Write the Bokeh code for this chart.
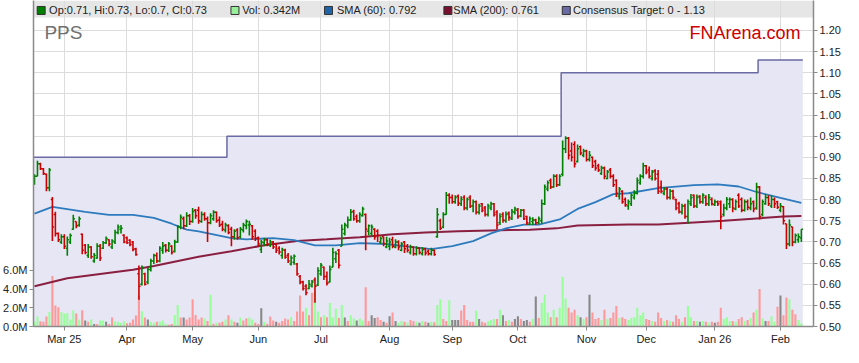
import pandas as pd
from bokeh.plotting import figure
from bokeh.models import Range1d, LinearAxis, FixedTicker, ColumnDataSource
from bokeh.embed import file_html
from bokeh.resources import INLINE
from bokeh.core.properties import value

# ---------------- data ----------------
symbol = "PPS"
site = "FNArena.com"
first_day = "2025-02-17"
n_days = 258

opens = [
 .845,.855,.885,.873,.860,.828,.800,.765,.720,.700,
 .712,.685,.700,.730,.748,.740,.718,.692,.668,.688,
 .655,.662,.690,.685,.698,.705,.688,.700,.722,.730,
 .716,.710,.704,.700,.684,.625,.600,.625,.605,.635,
 .655,.668,.655,.680,.692,.680,.690,.678,.700,.735,
 .755,.738,.762,.748,.775,.775,.748,.765,.755,.745,
 .755,.770,.752,.742,.728,.738,.730,.712,.728,.712,
 .728,.738,.740,.738,.725,.710,.682,.698,.705,.692,
 .700,.695,.685,.668,.680,.668,.648,.652,.648,.618,
 .605,.595,.590,.596,.610,.598,.625,.640,.618,.605,
 .640,.660,.680,.690,.720,.738,.752,.772,.760,.750,
 .762,.765,.725,.720,.730,.725,.700,.712,.688,.690,
 .705,.688,.700,.680,.700,.690,.675,.688,.672,.685,
 .672,.684,.678,.672,.680,.712,.750,.735,.765,.810,
 .805,.795,.808,.790,.805,.780,.805,.785,.795,.770,
 .790,.780,.765,.780,.790,.770,.745,.765,.750,.768,
 .755,.770,.775,.762,.775,.760,.742,.748,.752,.745,
 .750,.790,.825,.845,.830,.855,.835,.860,.920,.945,
 .915,.930,.890,.925,.905,.915,.895,.900,.890,.880,
 .862,.875,.850,.870,.855,.845,.808,.820,.800,.785,
 .790,.805,.815,.840,.855,.880,.870,.850,.868,.860,
 .830,.815,.825,.805,.820,.800,.790,.770,.785,.760,
 .790,.810,.785,.808,.795,.805,.790,.800,.788,.795,
 .795,.765,.780,.790,.800,.778,.810,.800,.775,.795,
 .780,.795,.780,.830,.765,.790,.805,.785,.800,.795,
 .775,.783,.743,.695,.736,.700,.705,.710]
highs = [
 .860,.892,.887,.875,.862,.875,.806,.771,.722,.718,
 .718,.713,.720,.764,.748,.760,.720,.695,.695,.690,
 .674,.697,.695,.702,.713,.706,.706,.729,.741,.740,
 .718,.713,.706,.702,.686,.644,.644,.627,.640,.660,
 .672,.675,.690,.700,.695,.700,.692,.705,.740,.765,
 .760,.770,.766,.780,.778,.783,.772,.770,.760,.768,
 .775,.772,.760,.750,.745,.742,.736,.730,.732,.735,
 .745,.753,.750,.740,.730,.713,.705,.710,.708,.705,
 .702,.697,.690,.686,.684,.674,.668,.670,.650,.622,
 .608,.600,.610,.610,.616,.640,.650,.642,.630,.644,
 .686,.678,.683,.741,.745,.760,.778,.776,.765,.770,
 .783,.767,.741,.741,.732,.730,.713,.713,.712,.710,
 .712,.706,.704,.700,.702,.695,.693,.690,.690,.688,
 .688,.686,.682,.686,.682,.780,.755,.770,.818,.815,
 .812,.810,.812,.808,.810,.805,.810,.800,.798,.790,
 .792,.785,.790,.795,.792,.775,.768,.770,.772,.772,
 .778,.783,.780,.778,.778,.762,.760,.758,.755,.760,
 .800,.836,.845,.850,.860,.860,.860,.940,.950,.948,
 .935,.938,.930,.928,.920,.918,.915,.902,.894,.885,
 .880,.878,.870,.875,.860,.848,.830,.822,.805,.800,
 .815,.822,.852,.860,.887,.882,.878,.870,.872,.870,
 .845,.830,.830,.825,.823,.802,.795,.790,.790,.800,
 .813,.812,.812,.810,.815,.810,.813,.805,.800,.798,
 .798,.790,.806,.805,.803,.800,.815,.805,.800,.800,
 .805,.798,.840,.832,.800,.813,.810,.810,.805,.797,
 .792,.785,.743,.753,.736,.720,.720,.730]
lows = [
 .835,.855,.870,.858,.820,.820,.702,.713,.700,.695,
 .683,.667,.695,.729,.732,.736,.671,.671,.662,.660,
 .651,.660,.655,.683,.695,.690,.683,.695,.718,.720,
 .697,.695,.690,.678,.667,.563,.597,.597,.600,.630,
 .648,.650,.652,.672,.675,.676,.670,.675,.698,.730,
 .730,.735,.740,.745,.755,.743,.745,.750,.700,.742,
 .750,.745,.735,.725,.722,.718,.690,.705,.705,.708,
 .722,.730,.715,.705,.702,.690,.674,.690,.690,.688,
 .683,.674,.670,.660,.660,.650,.644,.646,.620,.600,
 .585,.574,.588,.592,.556,.596,.620,.610,.597,.604,
 .640,.650,.637,.690,.715,.732,.750,.750,.745,.745,
 .760,.680,.715,.712,.705,.700,.695,.690,.685,.680,
 .685,.685,.680,.678,.674,.675,.670,.667,.668,.670,
 .668,.668,.668,.668,.667,.710,.728,.732,.764,.790,
 .790,.790,.785,.785,.775,.775,.780,.770,.765,.765,
 .770,.760,.760,.775,.760,.730,.740,.745,.745,.750,
 .752,.765,.755,.758,.752,.740,.740,.740,.740,.742,
 .743,.787,.820,.825,.828,.830,.832,.855,.910,.895,
 .890,.876,.888,.905,.900,.890,.890,.875,.868,.865,
 .858,.848,.848,.850,.830,.806,.800,.790,.783,.776,
 .785,.800,.812,.835,.850,.860,.850,.845,.845,.813,
 .815,.810,.800,.800,.800,.775,.767,.765,.755,.743,
 .785,.780,.780,.790,.790,.785,.785,.786,.785,.785,
 .730,.760,.775,.780,.770,.775,.780,.770,.772,.775,
 .775,.770,.776,.753,.760,.788,.785,.780,.780,.778,
 .770,.741,.683,.690,.690,.697,.698,.700]
closes = [
 .855,.885,.873,.862,.828,.870,.735,.720,.705,.712,
 .690,.705,.715,.755,.738,.755,.680,.675,.688,.665,
 .668,.690,.662,.698,.708,.695,.702,.722,.735,.732,
 .700,.698,.694,.682,.670,.595,.640,.600,.635,.655,
 .668,.655,.685,.690,.680,.695,.675,.700,.735,.758,
 .738,.762,.748,.772,.762,.750,.765,.755,.745,.762,
 .770,.750,.740,.730,.740,.722,.712,.725,.710,.730,
 .740,.748,.742,.712,.708,.695,.700,.705,.695,.700,
 .688,.680,.676,.682,.664,.655,.662,.666,.625,.605,
 .590,.580,.600,.605,.595,.632,.645,.618,.602,.635,
 .675,.672,.645,.730,.740,.752,.770,.755,.750,.765,
 .778,.730,.738,.735,.712,.715,.708,.696,.702,.700,
 .690,.700,.688,.695,.684,.680,.688,.672,.685,.675,
 .682,.674,.672,.680,.670,.765,.732,.765,.810,.805,
 .795,.805,.792,.800,.780,.800,.785,.795,.770,.785,
 .775,.765,.785,.790,.765,.740,.760,.752,.765,.758,
 .772,.778,.760,.775,.755,.745,.755,.752,.745,.755,
 .790,.830,.840,.830,.855,.835,.855,.920,.945,.905,
 .900,.885,.920,.910,.915,.895,.905,.880,.875,.870,
 .875,.855,.865,.855,.835,.815,.825,.795,.788,.795,
 .810,.815,.845,.855,.880,.865,.855,.865,.850,.820,
 .820,.825,.805,.820,.805,.780,.772,.785,.760,.795,
 .805,.785,.805,.795,.810,.790,.805,.790,.795,.790,
 .760,.780,.800,.800,.780,.795,.785,.775,.795,.782,
 .790,.778,.830,.760,.795,.805,.790,.800,.790,.782,
 .785,.750,.695,.740,.700,.715,.712,.730]

# volume in millions, and day direction (g = up, r = down, n = unchanged)
volume_m = [
 .5,1.06,.56,.5,1.06,1.56,5.4,2.23,2.06,1.56,
 1.38,1.45,.74,1.7,1.38,.74,1.73,.64,.5,.74,
 .28,.28,.64,.64,.5,.28,.96,.56,.5,.39,
 .56,.35,.39,.74,1.17,3.3,1.63,.96,.74,.5,
 .39,.5,.5,.64,.3,.2,.28,1.24,2.3,.96,
 .96,.74,.96,2.9,1.24,.74,.96,.85,.6,3.4,
 .3,.4,.4,.5,.74,1.2,.74,.5,.4,.96,
 .64,.85,.96,.74,.4,.28,1.95,.5,.3,1.07,
 .64,.5,.4,.6,.85,.74,1.0,.6,1.6,3.3,
 1.6,2.0,1.2,3.6,3.8,1.6,1.0,1.2,1.0,2.5,
 .96,1.9,.9,2.3,.96,.6,1.2,.85,.64,.85,
 .64,4.2,.6,1.2,.9,1.0,.7,.5,.4,1.1,
 1.5,.6,.4,.6,.5,.4,.7,.6,.5,.4,
 .6,.5,.4,.5,.45,2.3,2.9,.8,.6,2.8,
 .7,.7,.7,1.7,2.3,.7,.5,.5,1.7,.8,
 .5,.4,.6,.7,.8,.8,1.8,1.2,.6,.7,
 .5,.8,1.1,.8,.6,.7,.5,.8,3.2,.9,
 2.5,3.4,1.5,1.0,1.8,1.0,2.0,5.3,3.0,2.0,
 1.5,1.8,1.2,1.0,.8,1.0,3.4,1.5,.8,.9,
 .7,1.8,.8,.9,1.5,2.2,.9,1.0,.8,.7,
 .9,1.0,2.0,1.2,1.5,.8,.7,.6,.5,1.5,
 .9,.6,.7,.6,.5,1.2,.8,.5,1.0,2.2,
 1.0,.6,.6,.5,.6,.5,.4,.5,.4,.5,
 2.0,.8,1.0,.6,.6,.5,.8,1.0,.6,.7,
 .9,1.5,1.8,4.0,.85,.6,.6,1.1,.5,2.1,
 3.3,1.2,3.1,2.9,1.8,1.3,.7,.342]
volume_dir = ("ggrrrgrrrg" "ggggrgrnrg" "nrggnrrggg" "grrrrrgrng" "grgggrrggr"
              "nrrrrrrgrg" "rgrrgrgrng" "rrggrrngrr" "rnrrrrgrrr" "rgrrggrgrg"
              "ggrgnrggng" "grrnnrrnrn" "rnggrgrrgn" "grngrggrrg" "nnnrrrrrgn"
              "rrgggrgnrg" "rnnrnnrgnr" "gggrgrgggr" "rrgngrnrrr" "grgrrrgrrg"
              "gggggrrgrr" "rgrgrrrgrg" "grgngrgrnr" "rgggrgrrgr" "grgrgnrggr"
              "nrrgrrgg")

sma60_day = [0, 6, 17, 25, 33, 40, 46, 51, 55, 66, 71, 80, 87, 91, 94, 101, 109, 118, 126, 133,
             140, 147, 153, 158, 164, 169, 176, 182, 188, 194, 199, 209, 221, 229, 236, 242, 250, 257]
sma60_val = [0.767, 0.783, 0.771, 0.764, 0.764, 0.757, 0.743, 0.729, 0.725, 0.709,
             0.706, 0.709, 0.704, 0.697, 0.692, 0.692, 0.697, 0.695, 0.688, 0.683,
             0.690, 0.702, 0.720, 0.732, 0.741, 0.741, 0.753, 0.778, 0.794, 0.813,
             0.815, 0.827, 0.834, 0.836, 0.831, 0.818, 0.804, 0.792]
sma200_day = [0, 11, 33, 40, 55, 66, 77, 88, 98, 109, 120, 131, 142, 153, 166, 175, 182, 199,
              209, 221, 231, 251, 257]
sma200_val = [0.595, 0.614, 0.634, 0.643, 0.665, 0.678, 0.692, 0.702, 0.706, 0.711, 0.718,
              0.722, 0.725, 0.727, 0.729, 0.732, 0.739, 0.741, 0.741, 0.746, 0.750, 0.760, 0.761]

target_from = ["2025-02-17", "2025-05-19", "2025-10-22", "2026-01-22"]
target_level = [0.90, 0.95, 1.10, 1.13]

month_labels = ["Mar 25", "Apr", "May", "Jun", "Jul", "Aug", "Sep", "Oct", "Nov", "Dec", "Jan 26", "Feb"]
price_ticks = [0.50, 0.55, 0.60, 0.65, 0.70, 0.75, 0.80, 0.85, 0.90, 0.95, 1.00, 1.05, 1.10, 1.15, 1.20]
volume_ticks = [0, 2, 4, 6]
volume_tick_labels = ["0.0M", "2.0M", "4.0M", "6.0M"]
legend_labels = ["Op:0.71, Hi:0.73, Lo:0.7, Cl:0.73", "Vol: 0.342M", "SMA (60): 0.792",
                 "SMA (200): 0.761", "Consensus Target: 0 - 1.13"]

for arr in (opens, highs, lows, closes, volume_m):
    assert len(arr) == n_days, len(arr)
assert len(volume_dir) == n_days, len(volume_dir)

# ---------------- layout ----------------
W, H = 843, 347
BL, BR, BT, BB = 31, 28, 0, 20
FL, FR, FT, FB = BL, W - BR, BT, H - BB     # frame in figure pixels
X0, X1 = -0.33, 261.07
Y0 = 0.50
Y1 = 1.20 + 30 * (1.20 - Y0) / (FB - 30)    # 1.20 sits 30 px below the top
V1 = (FB - FT) / 9.4                         # 9.4 px per million shares
FONT = "Liberation Sans"


def X(px):
    return X0 + (px - FL) * (X1 - X0) / (FR - FL)


def Y(py):
    return Y1 - (py - FT) * (Y1 - Y0) / (FB - FT)


dates = pd.bdate_range(first_day, periods=n_days)
idx = list(range(n_days))

p = figure(width=W, height=H, output_backend="svg", toolbar_location=None,
           x_range=Range1d(X0, X1), y_range=Range1d(Y0, Y1), y_axis_location="right",
           min_border_left=BL, min_border_right=BR, min_border_top=BT, min_border_bottom=BB,
           background_fill_color="white", border_fill_color="white", outline_line_color=None)
p.extra_y_ranges = {"vol": Range1d(0, V1)}

# month ticks
month_idx, labels = [], {}
prev = dates[0].month
k = 0
for i, d in enumerate(dates):
    if d.month != prev:
        month_idx.append(i)
        labels[i] = month_labels[k]
        k += 1
        prev = d.month

AXC = "#8a8a8a"
for ax in (p.xaxis[0], p.yaxis[0]):
    ax.axis_line_color = AXC
    ax.axis_line_width = 1.5
    ax.major_tick_line_color = AXC
    ax.major_tick_out = 4
    ax.major_tick_in = 0
    ax.minor_tick_line_color = None
    ax.major_label_text_font = FONT
    ax.major_label_text_font_size = "11px"
    ax.major_label_text_color = "#222222"
    ax.major_label_standoff = 2

p.xaxis[0].ticker = FixedTicker(ticks=month_idx)
p.xaxis[0].major_label_overrides = labels
p.yaxis[0].ticker = FixedTicker(ticks=price_ticks)
p.yaxis[0].major_label_overrides = {t: f"{t:.2f}" for t in price_ticks}

vax = LinearAxis(y_range_name="vol", ticker=FixedTicker(ticks=volume_ticks),
                 major_label_overrides=dict(zip(volume_ticks, volume_tick_labels)))
vax.axis_line_color = AXC
vax.axis_line_width = 1.5
vax.major_tick_line_color = AXC
vax.major_tick_out = 4
vax.major_tick_in = 0
vax.minor_tick_line_color = None
vax.major_label_text_font = FONT
vax.major_label_text_font_size = "11px"
vax.major_label_text_color = "#222222"
vax.major_label_standoff = 2
p.add_layout(vax, "left")

p.xgrid.ticker = FixedTicker(ticks=month_idx)
p.ygrid.ticker = FixedTicker(ticks=price_ticks)
p.xgrid.grid_line_color = "#dcdcdc"
p.ygrid.grid_line_color = "#dcdcdc"

# legend band (under the grid)
band_top, band_bot = Y(FT), Y(FT + 17)
p.quad(left=X0, right=X1, bottom=band_bot, top=band_top, fill_color="#e6e6e6",
       line_color=None, level="image")

# consensus target step area
t_idx = [dates.get_loc(pd.Timestamp(d)) for d in target_from]
xs, ys = [], []
for j, lev in enumerate(target_level):
    s = t_idx[j] - 0.5
    e = (t_idx[j + 1] - 0.5) if j + 1 < len(t_idx) else n_days - 0.5
    xs += [s, e]
    ys += [lev, lev]
p.patch([xs[0]] + xs + [xs[-1]], [Y0] + ys + [Y0], fill_color="#e6e6f5", line_color=None)
p.line(xs, ys, line_color="#6a6aa4", line_width=1.5)

# volume
vcol = {"g": "#99ff99", "r": "#ff9999", "n": "#888888"}
p.vbar(x=idx, top=volume_m, bottom=0, width=0.7, y_range_name="vol",
       fill_color=[vcol[c] for c in volume_dir], line_color=None)

# moving averages
p.line(sma200_day, sma200_val, line_color="#8a1f40", line_width=2)
p.line(sma60_day, sma60_val, line_color="#2d7bbd", line_width=1.8)

# OHLC bars
bcol = ["#008000" if c >= o else "#cc0000" for o, c in zip(opens, closes)]
src = ColumnDataSource(dict(x=idx, o=opens, h=highs, l=lows, c=closes, col=bcol,
                            xl=[i - 0.55 for i in idx], xr=[i + 0.55 for i in idx]))
p.segment(x0="x", y0="l", x1="x", y1="h", line_color="col", line_width=1.6, source=src)
p.segment(x0="xl", y0="o", x1="x", y1="o", line_color="col", line_width=1.5, source=src)
p.segment(x0="x", y0="c", x1="xr", y1="c", line_color="col", line_width=1.5, source=src)

# legend in the band
sq_px = [38.7, 233.5, 327.5, 447.5, 566.5]
tx_px = [46.7, 240.7, 336, 453, 573.3]
sq_col = ["#008000", "#99ee99", "#1f64a8", "#7a1030", "#6a6aa4"]
ly = Y(FT + 10)
p.rect(x=[X(v) for v in sq_px], y=[ly] * 5, width=8, height=8, width_units="screen",
       height_units="screen", fill_color=sq_col, line_color="#333333", line_width=1)
p.text(x=[X(v) for v in tx_px], y=[ly] * 5, text=legend_labels, text_font=value(FONT),
       text_font_size="11px", text_baseline="middle", text_align="left", text_color="#222222")

# titles
p.text(x=[X(42)], y=[Y(32)], text=[symbol], text_font=value(FONT),
       text_font_size="19px", text_baseline="middle", text_color="#707070")
p.text(x=[X(802)], y=[Y(33)], text=[site], text_font=value(FONT),
       text_font_size="18px", text_baseline="middle", text_align="right", text_color="#cc0000")

open("out.html", "w").write(file_html(p, INLINE))
